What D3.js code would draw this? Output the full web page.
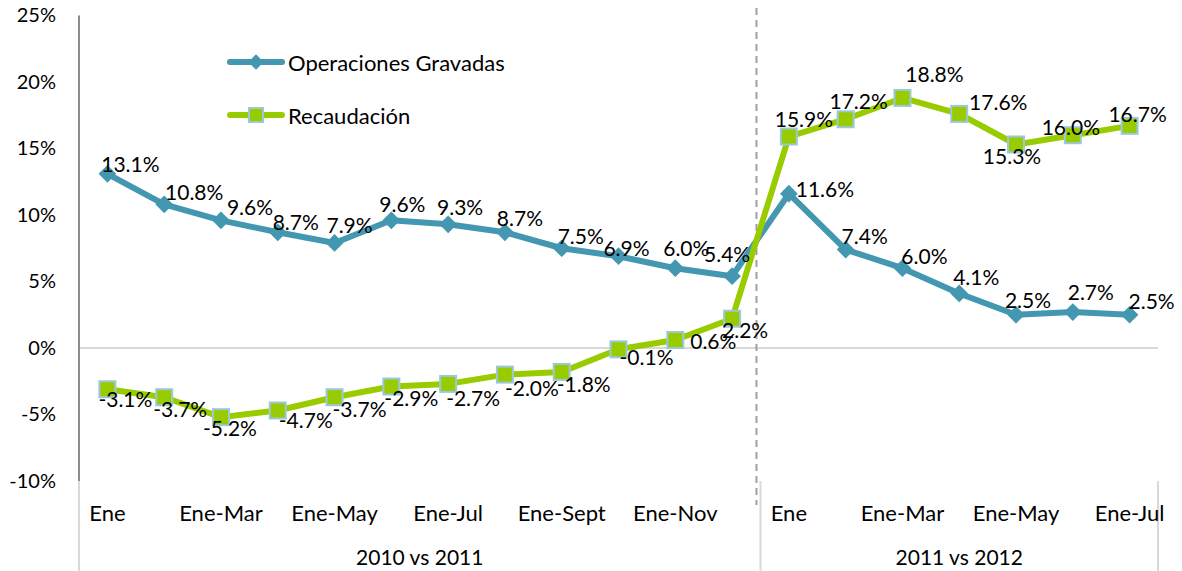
<!DOCTYPE html>
<html>
<head>
<meta charset="utf-8">
<script src="https://cdn.jsdelivr.net/npm/d3@7"></script>
<style>
  html, body { margin: 0; padding: 0; background: #fff; }
  svg { display: block; font-family: Lato, "Open Sans", sans-serif; }
</style>
</head>
<body>
<svg id="chart" width="1182" height="571"></svg>
<script>
// ---- data ----
const categories = ["Ene","Ene-Feb","Ene-Mar","Ene-Abr","Ene-May","Ene-Jun","Ene-Jul","Ene-Ago","Ene-Sept","Ene-Oct","Ene-Nov","Ene-Dic",
                    "Ene","Ene-Feb","Ene-Mar","Ene-Abr","Ene-May","Ene-Jun","Ene-Jul"];
const groups = ["2010 vs 2011", "2011 vs 2012"];
const groupSizes = [12, 7];
const seriesNames = ["Operaciones Gravadas", "Recaudación"];
const operaciones = [13.1, 10.8, 9.6, 8.7, 7.9, 9.6, 9.3, 8.7, 7.5, 6.9, 6.0, 5.4, 11.6, 7.4, 6.0, 4.1, 2.5, 2.7, 2.5];
const recaudacion = [-3.1, -3.7, -5.2, -4.7, -3.7, -2.9, -2.7, -2.0, -1.8, -0.1, 0.6, 2.2, 15.9, 17.2, 18.8, 17.6, 15.3, 16.0, 16.7];
const yTicks = [-10, -5, 0, 5, 10, 15, 20, 25];

// ---- label placement (layout only) ----
const opLabelOffsets = [[23,-10],[30,-13],[29,-14],[18,-11],[15,-18],[11,-17],[12,-18],[15,-15],[19,-13],[8,-9],[11,-21],[-5,-23],
                        [36,-5],[19,-14],[22,-13],[17,-17],[12,-15],[18,-21],[22,-14]];
const reLabelOffsets = [[18,9],[16,11],[9,10],[28,9],[25,11],[20,11],[25,14],[27,13],[22,12],[28,7],[38,0],[13,11],
                        [15,-18],[13,-19],[32,-24],[39,-12],[-4,11],[-2,-9],[8,-12]];

const colOp = "#4397B0", colRe = "#99CC00", colReBorder = "#9CC8DE";
const svg = d3.select("#chart");
const pLeft = 79, pRight = 1158, pTop = 15.5, pBottom = 481;

const x = d3.scaleBand().domain(d3.range(categories.length)).range([pLeft, pRight]).padding(0);
const cx = i => x(i) + x.bandwidth() / 2;
const y = d3.scaleLinear().domain([-10, 25]).range([pBottom, pTop]);

// zero line
svg.append("line").attr("x1", pLeft).attr("x2", pRight).attr("y1", y(0)).attr("y2", y(0))
  .attr("stroke", "#d9d9d9").attr("stroke-width", 2);

// y axis
const yAxis = svg.append("g").attr("transform", `translate(${pLeft},0)`)
  .call(d3.axisLeft(y).tickValues(yTicks).tickFormat(d => d + "%").tickSize(0).tickPadding(23));
yAxis.select(".domain").remove();
yAxis.selectAll("text").attr("font-size", 20).attr("font-family", "Lato").attr("fill", "#000");
svg.append("line").attr("x1", pLeft).attr("x2", pLeft).attr("y1", pTop).attr("y2", pBottom)
  .attr("stroke", "#8c8c8c").attr("stroke-width", 2);
svg.append("line").attr("x1", pLeft).attr("x2", pLeft).attr("y1", pBottom).attr("y2", 571)
  .attr("stroke", "#d9d9d9").attr("stroke-width", 2);

// group separators
let start = 0;
const groupBounds = groupSizes.map(n => { const b = [start, start + n - 1]; start += n; return b; });
groupBounds.forEach((b, gi) => {
  const xr = x(b[1]) + x.bandwidth();
  svg.append("line").attr("x1", xr).attr("x2", xr).attr("y1", pBottom).attr("y2", 571)
    .attr("stroke", "#d9d9d9").attr("stroke-width", 2);
  const xl = x(b[0]);
  svg.append("text").attr("x", (xl + xr) / 2).attr("y", 556).attr("text-anchor", "middle")
    .attr("dominant-baseline", "central").attr("font-size", 21).text(groups[gi]);
});

// category labels (every other within a group)
groupBounds.forEach(b => {
  for (let i = b[0]; i <= b[1]; i++) {
    if ((i - b[0]) % 2 === 0) {
      svg.append("text").attr("x", cx(i)).attr("y", 512).attr("text-anchor", "middle")
        .attr("dominant-baseline", "central").attr("font-size", 22).text(categories[i]);
    }
  }
});

// dashed divider between groups
const divX = x(groupBounds[0][1]) + x.bandwidth() - 4;
svg.append("line").attr("x1", divX).attr("x2", divX).attr("y1", 8).attr("y2", 505)
  .attr("stroke", "#a0a0a0").attr("stroke-width", 2).attr("stroke-dasharray", "7,5");

// lines
const line = d3.line().x((d, i) => cx(i)).y(d => y(d));
const diamond = d3.symbol().type(d3.symbolDiamond2).size(200);

function drawOp(g) {
  g.append("path").datum(operaciones).attr("d", line).attr("fill", "none")
    .attr("stroke", colOp).attr("stroke-width", 6).attr("stroke-linejoin", "round");
  g.selectAll("path.m").data(operaciones).join("path").attr("class", "m")
    .attr("d", diamond).attr("transform", (d, i) => `translate(${cx(i)},${y(d)})`).attr("fill", colOp);
}
function drawRe(g) {
  g.append("path").datum(recaudacion).attr("d", line).attr("fill", "none")
    .attr("stroke", colRe).attr("stroke-width", 6).attr("stroke-linejoin", "round");
  g.selectAll("rect.m").data(recaudacion).join("rect").attr("class", "m")
    .attr("x", (d, i) => cx(i) - 8).attr("y", d => y(d) - 8).attr("width", 16).attr("height", 16)
    .attr("fill", colRe).attr("stroke", colReBorder).attr("stroke-width", 2);
}
drawOp(svg.append("g"));
drawRe(svg.append("g"));

// data labels
const fmt = d => d.toFixed(1) + "%";
svg.append("g").selectAll("text").data(operaciones).join("text")
  .attr("x", (d, i) => cx(i) + opLabelOffsets[i][0]).attr("y", (d, i) => y(d) + opLabelOffsets[i][1])
  .attr("text-anchor", "middle").attr("dominant-baseline", "central").attr("font-size", 21).text(fmt);
svg.append("g").selectAll("text").data(recaudacion).join("text")
  .attr("x", (d, i) => cx(i) + reLabelOffsets[i][0]).attr("y", (d, i) => y(d) + reLabelOffsets[i][1])
  .attr("text-anchor", "middle").attr("dominant-baseline", "central").attr("font-size", 21).text(fmt);

// legend
const legend = svg.append("g");
[[seriesNames[0], 62, "op"], [seriesNames[1], 115, "re"]].forEach(([name, ly, kind]) => {
  const col = kind === "op" ? colOp : colRe;
  legend.append("line").attr("x1", 230).attr("x2", 282).attr("y1", ly).attr("y2", ly)
    .attr("stroke", col).attr("stroke-width", 6).attr("stroke-linecap", "round");
  if (kind === "op") {
    legend.append("path").attr("d", d3.symbol().type(d3.symbolDiamond2).size(150)())
      .attr("transform", `translate(256,${ly})`).attr("fill", colOp);
  } else {
    legend.append("rect").attr("x", 249).attr("y", ly - 7).attr("width", 14).attr("height", 14)
      .attr("fill", colRe).attr("stroke", colReBorder).attr("stroke-width", 2);
  }
  legend.append("text").attr("x", 288).attr("y", ly).attr("dominant-baseline", "central")
    .attr("font-size", 22).text(name);
});
</script>
</body>
</html>
